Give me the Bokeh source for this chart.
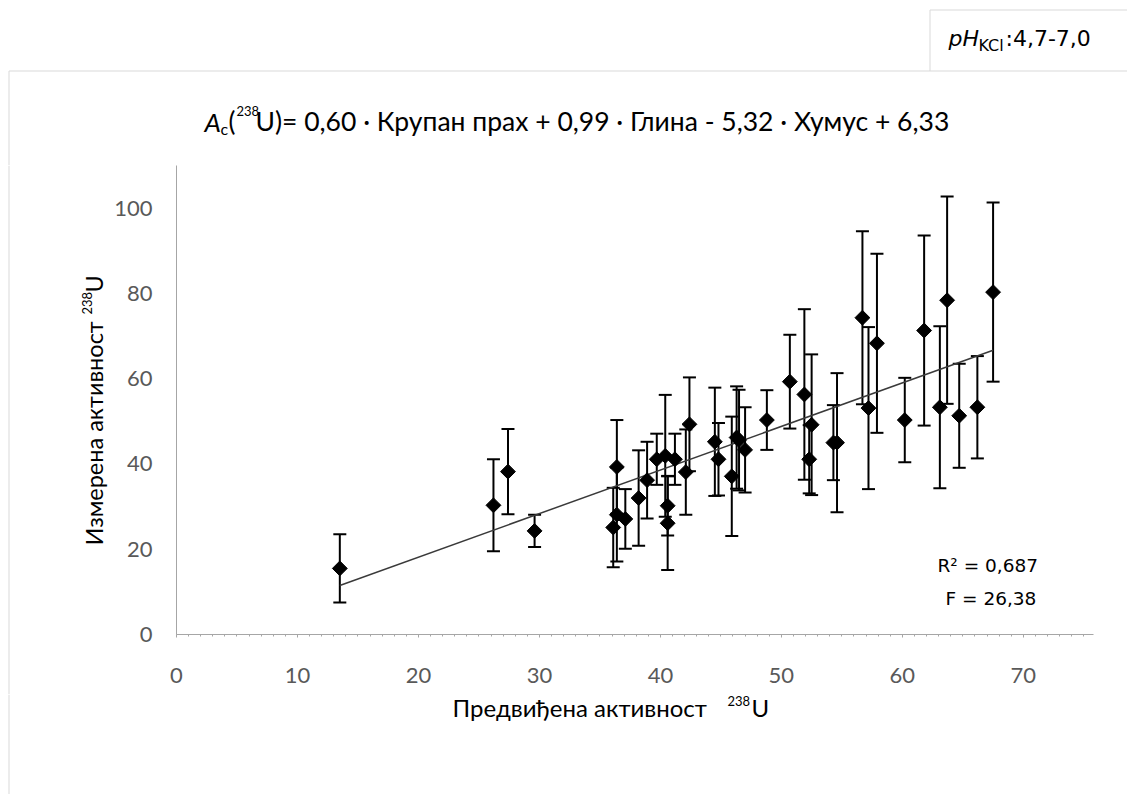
import numpy as np
from bokeh.plotting import figure
from bokeh.layouts import column, row
from bokeh.models import (ColumnDataSource, Whisker, TeeHead, Label, Range1d, FixedTicker)
from bokeh.embed import file_html
from bokeh.resources import INLINE

# ---------------- data ----------------
predicted = [13.5, 26.2, 27.4, 29.6, 36.1, 36.4, 36.4, 37.1, 38.2, 38.9,
             39.7, 40.4, 40.6, 40.6, 41.2, 42.1, 42.4, 44.5, 44.8, 45.9,
             46.3, 46.5, 47.0, 48.8, 50.7, 51.9, 52.5, 52.3, 54.3, 54.6,
             56.7, 57.2, 57.9, 60.2, 61.8, 63.1, 63.7, 64.7, 66.2, 67.5]
measured = [15.5, 30.3, 38.2, 24.3, 25.1, 39.3, 28.1, 27.1, 32.0, 36.2,
            41.1, 41.9, 30.2, 26.1, 41.1, 38.1, 49.3, 45.2, 41.1, 37.1,
            46.2, 45.6, 43.3, 50.3, 59.3, 56.3, 49.2, 41.1, 45.0, 45.0,
            74.3, 53.1, 68.3, 50.3, 71.3, 53.3, 78.4, 51.3, 53.3, 80.3]
uncertainty = [8.0, 10.8, 10.0, 3.8, 9.3, 11.0, 11.0, 7.0, 11.2, 9.0,
               6.0, 14.3, 7.0, 11.0, 6.0, 10.0, 11.0, 12.7, 8.5, 14.0,
               12.0, 11.8, 10.0, 7.0, 11.0, 20.0, 16.5, 8.0, 8.8, 16.3,
               20.3, 19.0, 21.0, 9.9, 22.3, 19.0, 24.3, 12.2, 12.0, 21.0]
fit_slope = 1.022
fit_intercept = -2.3
x_ticks = [0, 10, 20, 30, 40, 50, 60, 70]
y_ticks = [0, 20, 40, 60, 80, 100]

title_rest = "U)= 0,60 · Крупан прах + 0,99 · Глина - 5,32 · Хумус + 6,33"
x_title = "Предвиђена активност"
y_title = "Измерена активност"
isotope_mass = "238"
isotope_symbol = "U"
r2_text = "R² = 0,687"
f_text = "F = 26,38"
ph_range = ":4,7-7,0"

FONT = "Lato"
BORDER = "#d9d9d9"
W = 1127
H = 794


# ---------------- helper panels whose frame is the whole canvas ----------------
def panel(w, h):
    f = figure(frame_width=w, frame_height=h, output_backend="svg",
               toolbar_location=None, title=None,
               x_range=Range1d(0, w), y_range=Range1d(0, h),
               x_axis_location=None, y_axis_location=None,
               min_border=0, min_border_left=0, min_border_right=0,
               min_border_top=0, min_border_bottom=0)
    if hasattr(f, "frame_align"):
        f.frame_align = False
    f.xgrid.visible = False
    f.ygrid.visible = False
    f.outline_line_color = None
    f.background_fill_color = "white"
    f.border_fill_color = "white"
    return f


def put(f, top, h, px, py, text, size, font=FONT, style="normal", align="left",
        angle=0.0, color="black"):
    f.add_layout(Label(x=px, y=top + h - py, text=text, text_font=font,
                       text_font_size=size, text_font_style=style,
                       text_align=align, text_baseline="middle", angle=angle,
                       text_color=color))


def vline(f, top, h, px, py0, py1):
    f.line([px, px], [top + h - py0, top + h - py1], line_color=BORDER, line_width=1)


def hline(f, top, h, py, px0, px1):
    f.line([px0, px1], [top + h - py, top + h - py], line_color=BORDER, line_width=1)


# ---- top panel: pH box, chart title ----
T_TOP, T_H = 0, 165
top = panel(W, T_H)
hline(top, T_TOP, T_H, 70.5, 8.5, W)
vline(top, T_TOP, T_H, 8.5, 70.5, T_H)
hline(top, T_TOP, T_H, 9.5, 929.5, W)
vline(top, T_TOP, T_H, 929.5, 9.5, 70.5)
put(top, T_TOP, T_H, 948, 38, "pH", "22px", font="DejaVu Sans", style="italic")
put(top, T_TOP, T_H, 978, 45, "KCl", "16px", font="DejaVu Sans")
put(top, T_TOP, T_H, 1005, 38, ph_range, "22px", font="DejaVu Sans")

put(top, T_TOP, T_H, 204, 121, "A", "26px", style="italic")
put(top, T_TOP, T_H, 220, 128, "c", "16px")
put(top, T_TOP, T_H, 228, 120, "(", "26px")
put(top, T_TOP, T_H, 236, 110, isotope_mass, "13px")
put(top, T_TOP, T_H, 255, 120, title_rest, "26.5px")

# ---- middle row: left title panel + main chart ----
M_TOP, M_H = 165, 529
L_W = 108
left = panel(L_W, M_H)
vline(left, M_TOP, M_H, 8.5, M_TOP, M_TOP + M_H)
put(left, M_TOP, M_H, 93, 545, y_title, "23.5px", angle=np.pi / 2)
put(left, M_TOP, M_H, 86, 314, isotope_mass, "13px", angle=np.pi / 2)
put(left, M_TOP, M_H, 93, 292, isotope_symbol, "23.5px", angle=np.pi / 2)

FRAME_LEFT, FRAME_RIGHT = 176 - L_W, 34
FRAME_H = 469
p = figure(width=W - L_W, height=M_H, output_backend="svg", toolbar_location=None,
           title=None, x_range=Range1d(0, 75.8), y_range=Range1d(0, 110),
           min_border_left=FRAME_LEFT, min_border_right=FRAME_RIGHT,
           min_border_top=0, min_border_bottom=M_H - FRAME_H)
p.xgrid.visible = False
p.ygrid.visible = False
p.outline_line_color = None
p.background_fill_color = "white"
p.border_fill_color = "white"

p.xaxis.ticker = FixedTicker(ticks=x_ticks, minor_ticks=list(range(0, 76)))
p.yaxis.ticker = FixedTicker(ticks=y_ticks)
for ax in (p.xaxis[0], p.yaxis[0]):
    ax.axis_line_color = "#a6a6a6"
    ax.axis_line_width = 1
    ax.major_label_text_font = FONT
    ax.major_label_text_font_size = "22px"
    ax.major_label_text_color = "#595959"
p.xaxis.major_tick_line_color = "#a6a6a6"
p.xaxis.major_tick_out = 3
p.xaxis.major_tick_in = 0
p.xaxis.minor_tick_line_color = "#a6a6a6"
p.xaxis.minor_tick_out = 2
p.xaxis.minor_tick_in = 0
p.xaxis.major_label_standoff = 30
p.yaxis.major_tick_line_color = None
p.yaxis.minor_tick_line_color = None
p.yaxis.major_tick_out = 0
p.yaxis.minor_tick_out = 0
p.yaxis.major_tick_in = 0
p.yaxis.minor_tick_in = 0
p.yaxis.major_label_standoff = 24

src = ColumnDataSource(dict(
    x=predicted, y=measured,
    upper=[m + u for m, u in zip(measured, uncertainty)],
    lower=[m - u for m, u in zip(measured, uncertainty)],
))

xs = np.array([min(predicted), max(predicted)])
p.line(xs, fit_slope * xs + fit_intercept, line_color="#3a3a3a", line_width=1.5)

p.add_layout(Whisker(source=src, base="x", upper="upper", lower="lower",
                     line_color="black", line_width=2,
                     upper_head=TeeHead(size=13, line_color="black", line_width=2),
                     lower_head=TeeHead(size=13, line_color="black", line_width=2)))
p.scatter("x", "y", source=src, marker="square", angle=np.pi / 4, size=10.5,
          color="black")


# statistics text (screen units, relative to the plot frame)
def stat(px, py, text):
    p.add_layout(Label(x=px - 176, y=634 - py, x_units="screen", y_units="screen",
                       text=text, text_font="DejaVu Sans", text_font_size="18.5px",
                       text_align="left", text_baseline="middle", text_color="black"))


stat(937, 565, r2_text)
stat(945, 598, f_text)

# ---- bottom panel: x title ----
B_TOP = M_TOP + M_H
B_H = H - B_TOP
bottom = panel(W, B_H)
vline(bottom, B_TOP, B_H, 8.5, B_TOP, H)
put(bottom, B_TOP, B_H, 452, 707, x_title, "24px")
put(bottom, B_TOP, B_H, 727, 700, isotope_mass, "13px")
put(bottom, B_TOP, B_H, 751, 707, isotope_symbol, "24px")

layout = column(top, row(left, p), bottom)
open("out.html", "w").write(file_html(layout, INLINE))
